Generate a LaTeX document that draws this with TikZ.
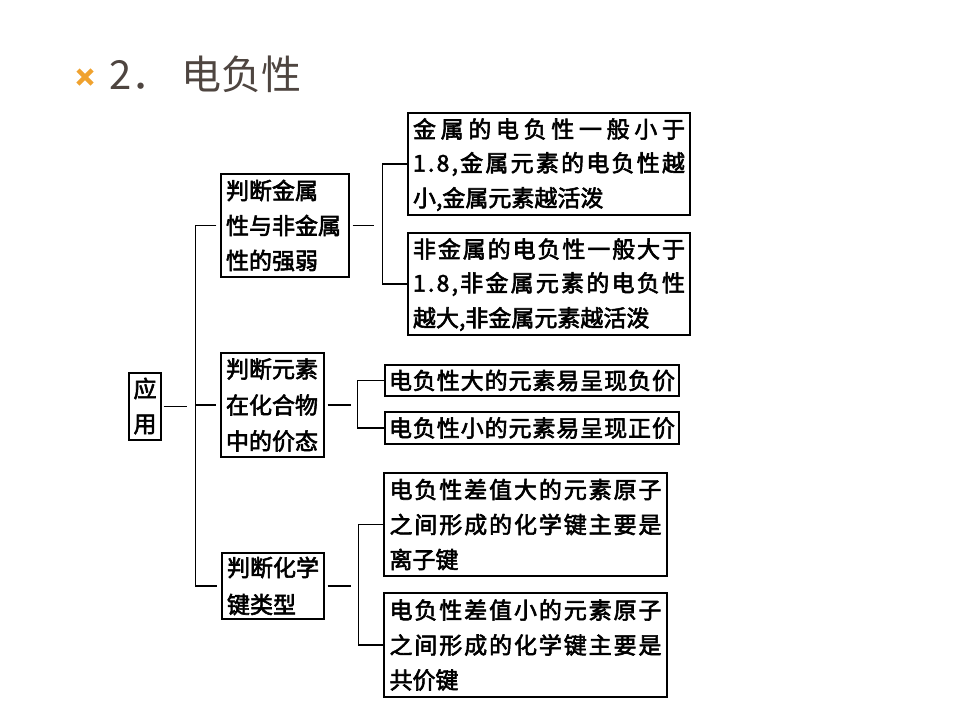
\documentclass[tikz,border=0pt]{standalone}
\usepackage{fontspec}
\newfontfamily\cjkb{Noto Sans CJK SC}[FakeBold=2.5]
\newfontfamily\cjkt{Noto Sans CJK SC}
\definecolor{titlecol}{HTML}{4E4540}
\definecolor{markcol}{HTML}{F0A22E}
\def\rowh{35pt}
\def\spr#1#2\relax{#1\sprB#2\relax}
\def\sprB#1{\ifx#1\relax\else\hfil#1\expandafter\sprB\fi}
\newcommand\jrow[2]{\vbox to \rowh{\vss\hbox to #1{\spr#2\relax}\vss}}
\newcommand\lrow[2]{\vbox to \rowh{\vss\hbox to #1{#2\hfil}\vss}}
\tikzset{
  box/.style={draw, line width=1.3pt, inner xsep=0pt, inner ysep=-4pt,
    font=\cjkb\fontsize{23}{23}\selectfont},
  conn/.style={line width=1.2pt},
}
\begin{document}
\begin{tikzpicture}[x=1pt,y=-1pt]
\useasboundingbox (0,0) rectangle (960,720);
\fill[white] (0,0) rectangle (960,720);
% title
\draw[markcol, line width=4.5pt] (78,70) -- (92,84) (78,84) -- (92,70);
\node[anchor=base west, inner sep=0pt, text=titlecol,
  font=\cjkt\fontsize{40}{40}\selectfont] (title) at (109,89) {2．\hspace{10pt}电负性};
% boxes
\node[box, minimum width=32pt, minimum height=67pt] (yy) at (145,406.5)
  {\def\rowh{36pt}\vbox{\offinterlineskip\lrow{23pt}{应}\lrow{23pt}{用}}};
\node[box, minimum width=128pt, minimum height=103pt] (b1) at (285,225.5)
  {\vbox{\offinterlineskip\lrow{118pt}{判断金属}\lrow{118pt}{性与非金属}\lrow{118pt}{性的强弱}}};
\node[box, minimum width=103pt, minimum height=104pt] (b2) at (272.5,405)
  {\def\rowh{36pt}\vbox{\offinterlineskip\lrow{93pt}{判断元素}\lrow{93pt}{在化合物}\lrow{93pt}{中的价态}}};
\node[box, minimum width=102pt, minimum height=66pt] (b3) at (273,586)
  {\def\rowh{37pt}\vbox{\offinterlineskip\lrow{92pt}{判断化学}\lrow{92pt}{键类型}}};
\node[box, minimum width=282pt, minimum height=102pt] (A) at (549,164)
  {\vbox{\offinterlineskip\jrow{272pt}{金属的电负性一般小于}\jrow{272pt}{1.8,金属元素的电负性越}\lrow{272pt}{小,金属元素越活泼}}};
\node[box, minimum width=282pt, minimum height=102pt] (B) at (549,284)
  {\vbox{\offinterlineskip\jrow{272pt}{非金属的电负性一般大于}\jrow{272pt}{1.8,非金属元素的电负性}\lrow{272pt}{越大,非金属元素越活泼}}};
\node[box, minimum width=294pt, minimum height=31pt] (C) at (532,380.5)
  {\vbox{\offinterlineskip\jrow{286pt}{电负性大的元素易呈现负价}}};
\node[box, minimum width=294pt, minimum height=32pt] (D) at (532,428)
  {\vbox{\offinterlineskip\jrow{286pt}{电负性小的元素易呈现正价}}};
\node[box, minimum width=283pt, minimum height=103pt] (E) at (525.5,524.5)
  {\vbox{\offinterlineskip\jrow{272pt}{电负性差值大的元素原子}\jrow{272pt}{之间形成的化学键主要是}\lrow{272pt}{离子键}}};
\node[box, minimum width=283pt, minimum height=104pt] (F) at (525.5,645)
  {\vbox{\offinterlineskip\jrow{272pt}{电负性差值小的元素原子}\jrow{272pt}{之间形成的化学键主要是}\lrow{272pt}{共价键}}};
% connectors
\draw[conn] ([xshift=2pt]yy.east) -- ([xshift=25pt]yy.east);
\draw[conn] ([xshift=-4pt]b1.west) -- ([xshift=-25pt]b1.west)
  |- ([xshift=-4pt]b3.west);
\draw[conn] ([xshift=-25pt]b1.west |- b2.west) -- ([xshift=-4pt]b2.west);
\draw[conn] ([xshift=3pt]b1.east) -- ([xshift=24pt]b1.east);
\draw[conn] (A.west) -- ++(-25,0) |- (B.west);
\draw[conn] ([xshift=3pt]b2.east) -- ([xshift=26pt]b2.east);
\draw[conn] (C.west) -- ++(-27,0) |- (D.west);
\draw[conn] ([xshift=3pt]b3.east) -- ([xshift=26pt]b3.east);
\draw[conn] (E.west) -- ++(-25,0) |- (F.west);
\end{tikzpicture}
\end{document}
